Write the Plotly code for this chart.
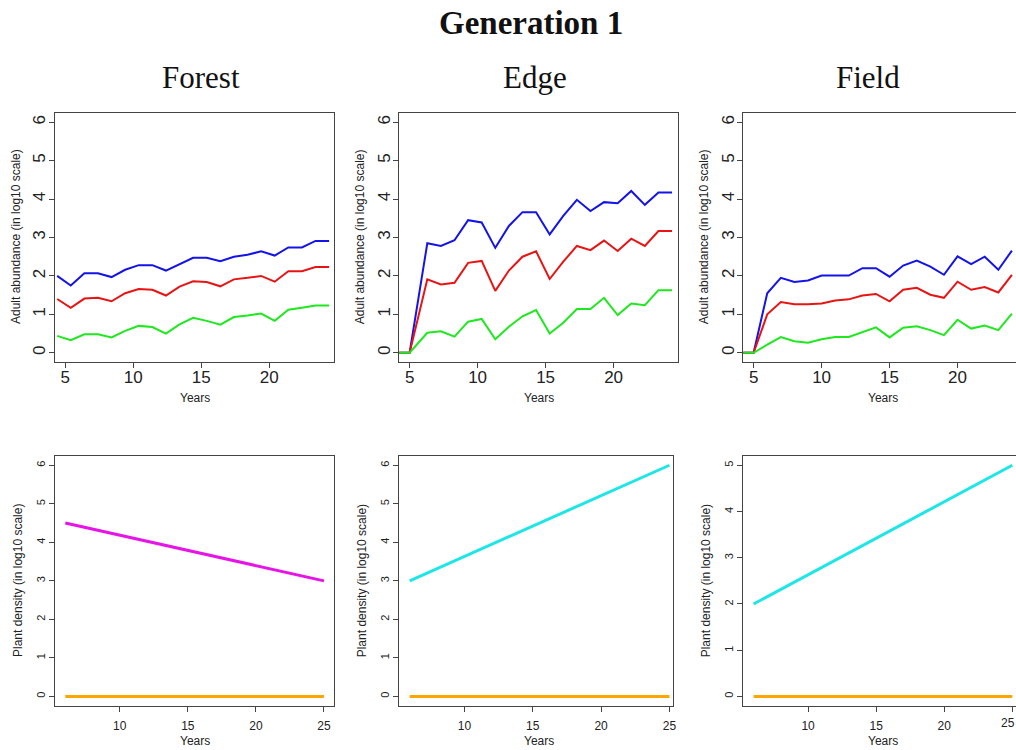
import plotly.graph_objects as go

# ---------------- data ----------------
forest_years = [4.4, 5.4, 6.4, 7.4, 8.4, 9.4, 10.4, 11.4, 12.4, 13.4, 14.4,
                15.4, 16.4, 17.4, 18.4, 19.4, 20.4, 21.4, 22.4, 23.4, 24.4]
forest_blue = [2.00, 1.75, 2.07, 2.07, 1.97, 2.16, 2.28, 2.28, 2.14, 2.31, 2.47,
               2.47, 2.38, 2.50, 2.55, 2.64, 2.53, 2.74, 2.74, 2.91, 2.91]
forest_red = [1.40, 1.17, 1.41, 1.43, 1.34, 1.55, 1.66, 1.64, 1.49, 1.72, 1.86,
              1.84, 1.73, 1.91, 1.95, 2.00, 1.85, 2.12, 2.12, 2.23, 2.23]
forest_green = [0.44, 0.33, 0.48, 0.48, 0.40, 0.57, 0.70, 0.67, 0.50, 0.74, 0.91,
                0.83, 0.73, 0.93, 0.97, 1.02, 0.83, 1.12, 1.17, 1.23, 1.23]

edge_years = [4.0, 5.0, 6.3, 7.3, 8.3, 9.3, 10.3, 11.3, 12.3, 13.3, 14.3,
              15.3, 16.3, 17.3, 18.3, 19.3, 20.3, 21.3, 22.3, 23.3, 24.3]
edge_blue = [0, 0, 2.85, 2.78, 2.93, 3.45, 3.39, 2.73, 3.30, 3.66, 3.66,
             3.08, 3.56, 3.98, 3.69, 3.92, 3.89, 4.21, 3.85, 4.17, 4.17]
edge_red = [0, 0, 1.91, 1.78, 1.82, 2.34, 2.39, 1.61, 2.14, 2.50, 2.64,
            1.92, 2.37, 2.78, 2.67, 2.92, 2.65, 2.97, 2.78, 3.17, 3.17]
edge_green = [0, 0, 0.52, 0.56, 0.42, 0.81, 0.88, 0.35, 0.68, 0.95, 1.11,
              0.50, 0.78, 1.14, 1.14, 1.43, 0.98, 1.28, 1.24, 1.63, 1.63]

field_years = [4, 5, 6, 7, 8, 9, 10, 11, 12, 13, 14,
               15, 16, 17, 18, 19, 20, 21, 22, 23, 24]
field_blue = [0, 0, 1.55, 1.95, 1.84, 1.88, 2.01, 2.01, 2.01, 2.20, 2.20,
              1.98, 2.27, 2.40, 2.24, 2.03, 2.51, 2.31, 2.50, 2.16, 2.66]
field_red = [0, 0, 1.00, 1.32, 1.26, 1.26, 1.28, 1.36, 1.39, 1.49, 1.53,
             1.34, 1.64, 1.69, 1.51, 1.43, 1.85, 1.64, 1.71, 1.57, 2.03]
field_green = [0, 0, 0.21, 0.41, 0.30, 0.26, 0.35, 0.41, 0.41, 0.53, 0.66,
               0.40, 0.65, 0.69, 0.59, 0.46, 0.86, 0.63, 0.71, 0.59, 1.02]

plant_years = [6, 10, 15, 20, 25]
forest_plant = [4.50, 4.18, 3.79, 3.39, 3.00]
edge_plant = [3.00, 3.63, 4.42, 5.21, 6.00]
field_plant = [2.00, 2.63, 3.42, 4.21, 5.00]
zero_years = [6, 25]
zero_plant = [0, 0]

top_xticks = [5, 10, 15, 20]
top_yticks = [0, 1, 2, 3, 4, 5, 6]
bot_xticks = [10, 15, 20, 25]
bot_yticks6 = [0, 1, 2, 3, 4, 5, 6]
bot_yticks5 = [0, 1, 2, 3, 4, 5]

panel_titles = ["Forest", "Edge", "Field"]
main_title = "Generation 1"

# ---------------- layout helpers ----------------
# body margin is removed in the page (post_script), so page px == figure px
W, H = 1016, 750
BLUE, RED, GREEN = "#1414e8", "#e81414", "#1ee81e"
MAGENTA, CYAN, ORANGE = "#e614e6", "#1ee6e6", "#ffa500"
AX = "#444444"


def fx(p):
    return p / W


def fy(p):
    return 1 - p / H


def px_x(a, b):
    return [max(0.0, fx(a)), min(1.0, fx(b))]


def px_y(top, bottom):
    return [fy(bottom), fy(top)]


fig = go.Figure()

top_panels = [
    (forest_years, forest_blue, forest_red, forest_green, (55, 334), [4.24, 24.76], True),
    (edge_years, edge_blue, edge_red, edge_green, (399.3, 678.3), [4.24, 24.76], True),
    (field_years, field_blue, field_red, field_green, (743.3, 1016), [4.24, 24.30], False),
]
bot_panels = [
    (forest_plant, MAGENTA, (55, 334.3), [5.24, 25.76], [-0.24, 6.24], bot_yticks6, True),
    (edge_plant, CYAN, (399.3, 673.3), [5.24, 25.28], [-0.24, 6.24], bot_yticks6, True),
    (field_plant, CYAN, (743.3, 1016), [5.24, 25.27], [-0.2, 5.2], bot_yticks5, False),
]

top_y = px_y(113, 362)
bot_y = px_y(456, 705.7)

layout = {}
idx = 1
for (yrs, b, r, g, xd, xr, mir) in top_panels:
    xa = "x" if idx == 1 else f"x{idx}"
    ya = "y" if idx == 1 else f"y{idx}"
    for vals, col in ((b, BLUE), (r, RED), (g, GREEN)):
        fig.add_trace(go.Scatter(x=yrs, y=vals, mode="lines",
                                 line=dict(color=col, width=2),
                                 xaxis=xa, yaxis=ya, showlegend=False,
                                 hoverinfo="skip"))
    layout[f"xaxis{idx}"] = dict(domain=px_x(*xd), range=xr, anchor=ya,
                                 tickvals=top_xticks, ticks="outside", ticklen=5,
                                 tickcolor=AX, showline=True, linecolor=AX,
                                 linewidth=1, mirror=True, showgrid=False,
                                 zeroline=False, automargin=False,
                                 ticklabelstandoff=-5,
                                 tickfont=dict(size=17, color="#222"))
    layout[f"yaxis{idx}"] = dict(domain=top_y, range=[-0.24, 6.24], anchor=xa,
                                 tickvals=top_yticks, ticks="outside", ticklen=5,
                                 tickcolor=AX, showline=True, linecolor=AX,
                                 linewidth=1, mirror=mir, showgrid=False,
                                 zeroline=False, automargin=False, tickangle=-90,
                                 ticklabelstandoff=-3,
                                 tickfont=dict(size=17, color="#222"))
    idx += 1

for (vals, col, xd, xr, yr, yt, mir) in bot_panels:
    xa = f"x{idx}"
    ya = f"y{idx}"
    fig.add_trace(go.Scatter(x=zero_years, y=zero_plant, mode="lines",
                             line=dict(color=ORANGE, width=3),
                             xaxis=xa, yaxis=ya, showlegend=False, hoverinfo="skip"))
    fig.add_trace(go.Scatter(x=plant_years, y=vals, mode="lines",
                             line=dict(color=col, width=3),
                             xaxis=xa, yaxis=ya, showlegend=False, hoverinfo="skip"))
    layout[f"xaxis{idx}"] = dict(domain=px_x(*xd), range=xr, anchor=ya,
                                 tickvals=bot_xticks, ticks="outside", ticklen=5,
                                 tickcolor=AX, showline=True, linecolor=AX,
                                 linewidth=1, mirror=True, showgrid=False,
                                 zeroline=False, automargin=False,
                                 ticklabelstandoff=4,
                                 tickfont=dict(size=12, color="#222"))
    layout[f"yaxis{idx}"] = dict(domain=bot_y, range=yr, anchor=xa,
                                 tickvals=yt, ticks="outside", ticklen=5,
                                 tickcolor=AX, showline=True, linecolor=AX,
                                 linewidth=1, mirror=mir, showgrid=False,
                                 zeroline=False, automargin=False, tickangle=-90,
                                 tickfont=dict(size=11, color="#222"))
    idx += 1

annotations = []


def ann(text, xpx, ypx, size, family="Liberation Sans, Arial, sans-serif",
        angle=0, bold=False, color="#222"):
    annotations.append(dict(text=f"<b>{text}</b>" if bold else text,
                            x=fx(xpx), y=fy(ypx), xref="paper", yref="paper",
                            showarrow=False, textangle=angle,
                            xanchor="center", yanchor="middle",
                            font=dict(size=size, family=family, color=color)))


ann(main_title, 531, 23, 33, family="Liberation Serif, Times New Roman, serif", bold=True, color="#111")
for t, cx in zip(panel_titles, [201, 535, 868]):
    ann(t, cx, 77, 31, family="Liberation Serif, Times New Roman, serif", color="#111")

for left, right in ((55, 334), (399.3, 678.3), (743.3, 1022.3)):
    ann("Years", (left + right) / 2, 398, 12)
    ann("Adult abundance (in log10 scale)", left - 39, 237, 12, angle=-90)
for left, right in ((55, 334.3), (399.3, 679), (743.3, 1022.3)):
    ann("Years", (left + right) / 2, 741, 12)
    ann("Plant density (in log10 scale)", left - 37, 581, 12, angle=-90)

# the last tick label of the Field panel sits at the page edge (plotly hides it)
annotations.append(dict(text=str(bot_xticks[-1]), x=1.0, xref="paper",
                        y=fy(723), yref="paper", showarrow=False,
                        xanchor="right", yanchor="middle", borderpad=0,
                        font=dict(size=12, color="#222",
                                  family="Liberation Sans, Arial, sans-serif")))

fig.update_layout(width=W, height=H, margin=dict(l=0, r=0, t=0, b=0),
                  paper_bgcolor="white", plot_bgcolor="white",
                  font=dict(family="Liberation Sans, Arial, sans-serif", color="#222"),
                  annotations=annotations, showlegend=False, **layout)

fig.write_html("out.html", config={"displayModeBar": False},
               post_script="document.body.style.margin='0px';document.body.style.overflow='hidden';")
